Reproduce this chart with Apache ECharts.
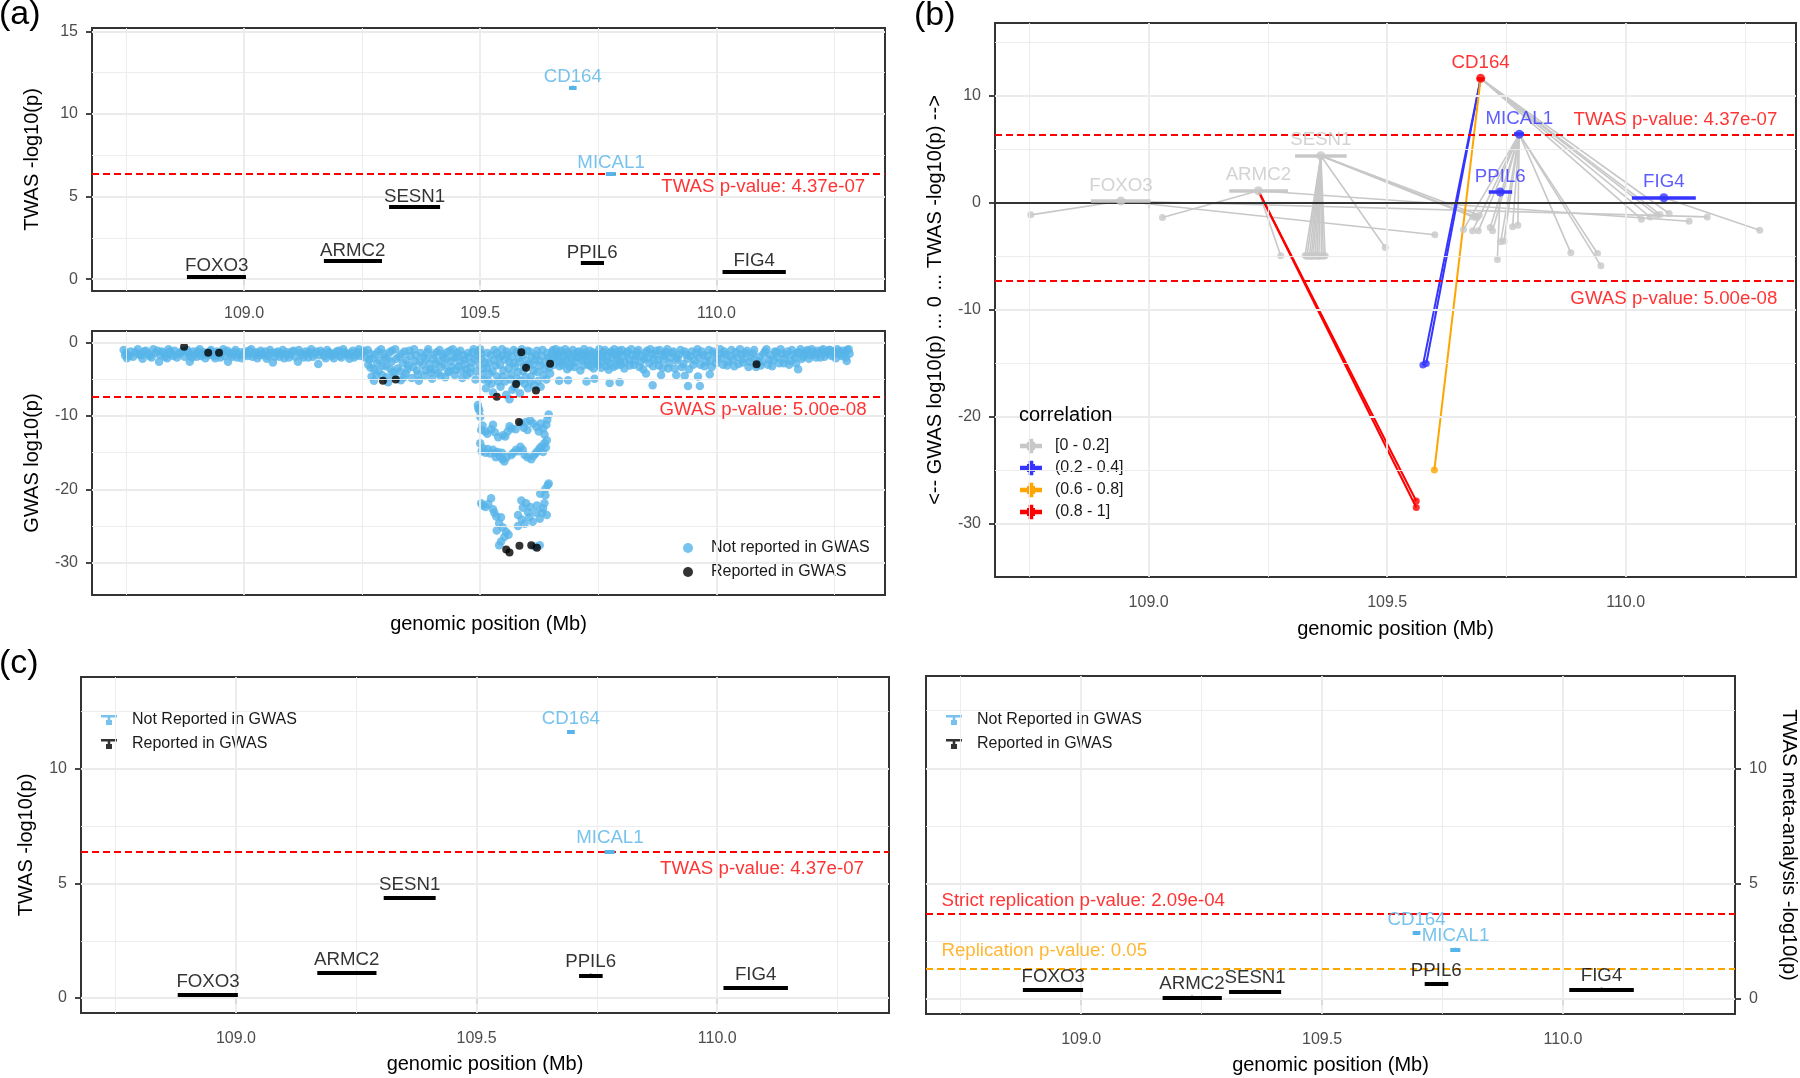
<!DOCTYPE html>
<html><head><meta charset="utf-8">
<script src="https://cdn.jsdelivr.net/npm/echarts@6.0.0/dist/echarts.min.js"></script>
<style>html,body{margin:0;padding:0;background:#fff}#c{width:1800px;height:1078px}</style>
</head><body><div id="c"></div>
<script>
// ---------------- DATA ----------------
const geneNames   = ['FOXO3','ARMC2','SESN1','CD164','MICAL1','PPIL6','FIG4'];
const geneStart   = [108.879,109.169,109.307,109.688,109.766,109.713,110.013];
const geneEnd     = [109.004,109.292,109.415,109.704,109.787,109.762,110.147];
const geneMid     = [108.942,109.230,109.361,109.696,109.777,109.737,110.080];
const twasLog10P  = [0.14,1.09,4.36,11.60,6.38,0.98,0.44];
const metaLog10P  = [0.39,0.07,0.32,2.85,2.15,0.65,0.41];
const reportedInGwas = [1,1,1,0,0,1,1];
const geneCorrClass  = [0,0,0,3,1,1,1];

const corrClasses = ['[0 - 0.2]','(0.2 - 0.4]','(0.6 - 0.8]','(0.8 - 1]'];

const twasThreshold = 6.36;      // p = 4.37e-07
const gwasThreshold = -7.30;     // p = 5.00e-08
const strictRepThreshold = 3.68; // p = 2.09e-04
const repThreshold = 1.30;       // p = 0.05

const xTicks = [109.0,109.5,110.0];
const xMinor = [108.75,109.25,109.75,110.25];
const yTicksTwas = [0,5,10,15];
const yMinorTwas = [2.5,7.5,12.5];
const yTicksGwas = [-30,-20,-10,0];
const yMinorGwas = [-25,-15,-5];
const yTicksB = [-30,-20,-10,0,10];
const yMinorB = [-25,-15,-5,5,15];
const yTicksC = [0,5,10];
const yMinorC = [2.5,7.5,12.5];

// GWAS SNPs (position Mb, log10 p) – not reported
const gwasBandLeft = [[108.745,-1.0],[108.748,-1.7],[108.752,-2.1],[108.760,-1.2],[108.765,-1.9],[108.775,-0.9],[108.778,-1.6],[108.785,-2.2],[108.792,-1.1],[108.800,-1.8],[108.808,-0.9],[108.812,-1.4],[108.820,-2.6],[108.826,-1.2],[108.833,-1.9],[108.840,-0.9],[108.846,-1.5],[108.853,-1.1],[108.858,-2.0],[108.866,-1.3],[108.885,-2.6],[108.880,-1.0],[108.886,-1.7],[108.893,-1.2],[108.900,-1.9],[108.906,-0.9],[108.912,-1.5],[108.918,-2.1],[108.930,-1.0],[108.936,-1.8],[108.942,-1.2],[108.950,-2.0],[108.956,-0.9],[108.966,-2.6],[108.968,-1.4],[108.975,-1.9],[108.982,-1.0],[108.988,-1.6],[108.995,-2.1],[109.002,-1.2],[109.008,-1.8],[109.015,-0.9],[109.022,-1.5],[109.028,-2.1],[109.035,-1.1],[109.042,-1.7],[109.048,-2.2],[109.055,-1.0],[109.061,-2.7],[109.068,-1.4],[109.075,-1.9],[109.082,-1.0],[109.088,-1.6],[109.095,-2.0],[109.102,-1.2],[109.114,-2.6],[109.116,-1.0],[109.122,-1.7],[109.130,-1.2],[109.136,-2.0],[109.142,-0.9],[109.150,-1.5],[109.157,-2.9],[109.162,-1.1],[109.170,-1.8],[109.176,-1.0],[109.183,-1.5],[109.190,-2.1],[109.196,-1.2],[109.203,-1.8],[109.210,-0.9],[109.216,-1.5],[109.223,-2.2],[109.230,-1.1],[109.237,-1.7],[109.243,-0.9],[109.250,-1.4],[109.256,-2.0],
[108.750,-1.4],[108.757,-1.8],[108.770,-1.3],[108.782,-1.7],[108.788,-1.2],[108.797,-1.5],[108.804,-2.0],[108.817,-1.1],[108.823,-1.7],[108.830,-1.4],[108.837,-2.1],[108.843,-1.2],[108.850,-1.8],[108.862,-1.5],[108.870,-1.1],[108.874,-1.9],[108.883,-1.4],[108.890,-2.0],[108.897,-1.5],[108.903,-1.2],[108.909,-1.8],[108.915,-1.3],[108.924,-1.7],[108.927,-1.2],[108.933,-1.5],[108.939,-2.1],[108.946,-1.6],[108.953,-1.3],[108.959,-1.8],[108.965,-1.1],[108.972,-1.6],[108.978,-1.3],[108.985,-2.0],[108.991,-1.3],[108.998,-1.7],[109.005,-1.5],[109.011,-1.1],[109.018,-1.9],[109.025,-1.3],[109.031,-1.7],[109.038,-1.4],[109.045,-1.2],[109.051,-1.8],[109.058,-1.4],[109.065,-1.9],[109.071,-1.2],[109.078,-1.5],[109.085,-2.1],[109.091,-1.3],[109.098,-1.6],[109.105,-1.1],[109.108,-1.9],[109.119,-1.4],[109.126,-2.0],[109.133,-1.5],[109.139,-1.3],[109.146,-1.9],[109.153,-1.2],[109.159,-1.7],[109.166,-1.4],[109.173,-2.1],[109.180,-1.3],[109.186,-1.8],[109.193,-1.5],[109.200,-1.1],[109.206,-2.0],[109.213,-1.3],[109.220,-1.7],[109.226,-1.4],[109.233,-2.0],[109.240,-1.3],[109.246,-1.8],[109.253,-1.1]];
const gwasBandMid = [[109.262,-1.0],[109.265,-2.3],[109.268,-3.4],[109.270,-4.6],[109.275,-5.2],[109.278,-1.6],[109.282,-2.8],[109.285,-3.9],[109.290,-0.9],[109.292,-4.4],[109.298,-2.0],[109.300,-3.2],[109.305,-5.4],[109.308,-1.3],[109.312,-2.6],[109.315,-4.0],[109.320,-0.9],[109.325,-3.5],[109.328,-1.9],[109.332,-5.1],[109.336,-2.8],[109.340,-1.2],[109.342,-4.2],[109.348,-3.1],[109.352,-1.8],[109.355,-4.8],[109.360,-0.9],[109.362,-2.5],[109.366,-3.8],[109.370,-5.2],[109.374,-1.4],[109.378,-3.0],[109.382,-4.5],[109.386,-2.2],[109.390,-0.9],[109.394,-3.6],[109.398,-4.9],[109.402,-1.6],[109.406,-2.8],[109.410,-4.2],[109.414,-1.0],[109.418,-3.3],[109.422,-2.0],[109.426,-4.7],[109.430,-1.3],[109.434,-3.9],[109.438,-2.5],[109.442,-0.9],[109.446,-4.4],[109.450,-1.9],[109.454,-3.2],[109.458,-1.1],[109.462,-4.8],[109.466,-2.3],[109.470,-3.6],[109.474,-1.4],[109.478,-4.1],[109.482,-2.7],[109.486,-0.9],[109.490,-5.0],[109.494,-1.8],[109.498,-3.0],
[109.263,-3.0],[109.267,-1.5],[109.272,-2.1],[109.276,-3.6],[109.280,-4.4],[109.284,-1.2],[109.287,-2.4],[109.294,-3.1],[109.296,-1.5],[109.302,-4.7],[109.304,-2.2],[109.310,-3.6],[109.313,-1.1],[109.318,-4.6],[109.322,-2.2],[109.330,-3.9],[109.334,-1.5],[109.338,-4.7],[109.344,-2.4],[109.346,-3.6],[109.350,-1.1],[109.358,-3.3],[109.364,-1.7],[109.368,-4.3],[109.372,-2.6],[109.380,-1.9],[109.384,-3.8],[109.388,-1.3],[109.392,-2.9],[109.396,-4.1],[109.400,-2.2],[109.404,-3.7],[109.408,-1.3],[109.412,-2.5],[109.416,-4.5],[109.420,-1.6],[109.424,-3.0],[109.428,-2.2],[109.432,-4.0],[109.436,-1.1],[109.440,-3.3],[109.444,-2.0],[109.448,-3.7],[109.452,-1.4],[109.456,-2.6],[109.460,-3.8],[109.464,-1.7],[109.468,-2.9],[109.472,-4.4],[109.476,-1.9],[109.480,-3.4],[109.484,-1.3],[109.488,-2.3],[109.492,-3.9],[109.496,-1.2],
[109.500,-0.9],[109.503,-2.2],[109.506,-3.5],[109.508,-5.0],[109.512,-6.2],[109.515,-1.4],[109.518,-2.8],[109.520,-4.2],[109.524,-5.6],[109.527,-6.8],[109.530,-1.0],[109.533,-3.1],[109.536,-4.6],[109.540,-2.0],[109.543,-6.0],[109.546,-0.9],[109.549,-3.8],[109.552,-5.3],[109.555,-7.1],[109.558,-1.6],[109.561,-2.6],[109.562,-7.7],[109.565,-4.3],[109.568,-6.4],[109.571,-1.0],[109.574,-3.3],[109.578,-4.9],[109.581,-2.1],[109.584,-6.9],[109.588,-0.9],[109.591,-3.9],[109.594,-5.6],[109.598,-2.4],[109.601,-6.2],[109.604,-1.2],[109.607,-4.6],[109.611,-3.0],[109.614,-5.8],[109.618,-1.7],[109.621,-4.0],[109.625,-2.5],[109.628,-6.0],[109.632,-1.0],[109.636,-3.5],[109.640,-5.0],[109.644,-2.0],[109.648,-4.2],[109.652,-1.3],[109.656,-3.0],
[109.502,-1.5],[109.505,-4.3],[109.510,-2.6],[109.514,-3.4],[109.517,-5.2],[109.522,-1.7],[109.526,-3.9],[109.529,-2.4],[109.535,-1.4],[109.538,-5.3],[109.542,-3.0],[109.545,-1.8],[109.548,-4.6],[109.552,-2.3],[109.556,-1.2],[109.560,-3.5],[109.564,-5.0],[109.567,-1.9],[109.570,-2.8],[109.573,-6.0],[109.577,-1.3],[109.580,-4.0],[109.583,-2.6],[109.586,-5.2],[109.590,-1.7],[109.593,-3.2],[109.596,-4.7],[109.600,-1.1],[109.603,-2.9],[109.606,-5.3],[109.609,-1.9],[109.613,-3.8],[109.616,-2.3],[109.620,-1.1],[109.623,-5.2],[109.627,-3.1],[109.630,-1.8],[109.634,-4.4],[109.638,-2.6],[109.642,-1.4],[109.646,-3.4],[109.650,-2.2],[109.654,-1.0],[109.658,-1.9]];
const gwasColumn = [[109.495,-8.5],[109.496,-8.95],[109.500,-10.1],[109.502,-11.9],[109.511,-12.1],[109.523,-11.8],[109.527,-11.2],[109.548,-12.6],[109.558,-12.1],[109.566,-11.7],[109.587,-11.0],[109.597,-10.8],[109.606,-10.6],[109.619,-11.5],[109.624,-12.1],[109.633,-11.7],[109.640,-11.2],[109.645,-9.8],
[109.500,-13.7],[109.506,-14.4],[109.516,-14.5],[109.527,-14.6],[109.537,-14.9],[109.542,-15.5],[109.551,-16.2],[109.566,-15.3],[109.576,-14.6],[109.585,-14.2],[109.594,-15.3],[109.608,-15.9],[109.617,-15.1],[109.626,-14.4],[109.636,-13.7],[109.641,-13.3],[109.633,-14.9],[109.547,-15.9],[109.531,-15.0],
[109.643,-19.4],[109.638,-19.9],[109.627,-20.6],[109.587,-21.5],[109.597,-21.9],[109.606,-22.4],[109.601,-23.1],[109.636,-21.9],[109.633,-22.6],[109.641,-23.5],[109.626,-24.0],[109.611,-24.4],[109.594,-24.7],[109.580,-25.0],[109.580,-23.5],[109.502,-21.9],[109.511,-22.4],[109.523,-21.2],[109.527,-22.7],[109.534,-23.7],[109.544,-23.8],[109.535,-25.6],[109.555,-25.8],[109.544,-27.1],[109.551,-26.5],[109.626,-27.6],[109.615,-27.8],
[109.498,-9.2],[109.505,-11.3],[109.515,-12.4],[109.531,-12.2],[109.538,-12.9],[109.553,-12.8],[109.562,-11.4],[109.575,-11.8],[109.592,-11.6],[109.600,-11.9],[109.612,-11.0],[109.628,-11.0],[109.636,-12.5],[109.642,-10.5],
[109.503,-14.8],[109.511,-15.0],[109.521,-15.1],[109.533,-15.6],[109.546,-15.0],[109.556,-15.6],[109.570,-15.0],[109.581,-14.8],[109.590,-14.6],[109.600,-15.6],[109.613,-15.4],[109.621,-14.8],[109.630,-14.1],[109.639,-14.3],
[109.505,-22.2],[109.517,-22.0],[109.530,-23.2],[109.540,-24.6],[109.548,-25.2],[109.560,-26.2],[109.590,-22.5],[109.604,-23.8],[109.618,-23.2],[109.631,-23.2],[109.638,-20.8],[109.645,-19.2],[109.540,-27.6],[109.588,-24.1],[109.620,-22.2]];
const gwasBandRight = [[109.660,-0.9],[109.664,-2.0],[109.668,-3.2],[109.672,-1.4],[109.667,-5.2],[109.676,-2.6],[109.680,-0.9],[109.684,-3.6],[109.686,-5.1],[109.688,-1.7],[109.692,-2.8],[109.696,-1.0],[109.700,-3.3],[109.704,-2.0],[109.708,-1.2],[109.712,-3.8],[109.716,-2.4],[109.720,-0.9],[109.725,-5.3],[109.724,-1.8],[109.728,-3.0],[109.732,-1.1],[109.736,-2.2],[109.740,-3.5],[109.742,-4.9],[109.744,-1.5],[109.748,-2.7],[109.752,-0.9],[109.756,-3.4],[109.760,-1.9],[109.764,-1.0],[109.768,-2.5],[109.772,-3.7],[109.774,-5.5],[109.776,-1.4],[109.780,-2.1],[109.784,-0.9],[109.788,-3.1],[109.792,-1.7],[109.795,-5.4],[109.796,-2.6],[109.800,-1.0],[109.805,-3.5],[109.810,-1.5],[109.815,-2.3],[109.820,-0.9],[109.825,-3.0],[109.830,-1.8],[109.835,-1.0],[109.840,-2.6],[109.845,-3.6],[109.851,-4.2],[109.850,-1.4],[109.856,-2.1],[109.860,-0.9],[109.865,-5.8],[109.866,-3.2],[109.870,-1.6],[109.876,-2.4],[109.880,-1.0],[109.883,-4.4],[109.886,-3.4],[109.890,-1.8],[109.896,-0.9],[109.900,-2.8],[109.906,-1.4],[109.912,-3.5],[109.915,-4.4],[109.918,-2.1],[109.924,-1.0],[109.930,-2.9],[109.933,-4.5],[109.936,-1.6],[109.940,-5.9],[109.942,-3.6],[109.948,-1.2],[109.954,-2.4],[109.960,-0.9],[109.961,-4.6],[109.965,-5.9],[109.966,-3.0],[109.972,-1.7],[109.978,-2.6],[109.984,-1.0],[109.986,-4.3],[109.990,-3.3],[109.996,-1.5],
[110.002,-2.2],[110.008,-0.9],[110.014,-3.0],[110.020,-1.6],[110.026,-2.6],[110.032,-1.0],[110.038,-3.2],[110.044,-1.9],[110.050,-0.9],[110.056,-2.7],[110.062,-1.4],[110.068,-3.3],[110.074,-2.0],[110.080,-1.0],[110.088,-2.5],[110.094,-3.1],[110.100,-1.5],[110.106,-0.9],[110.112,-2.3],[110.118,-3.2],[110.124,-1.2],[110.130,-2.0],[110.136,-0.9],[110.142,-2.8],[110.148,-1.6],[110.154,-3.0],[110.160,-1.0],[110.166,-2.1],[110.173,-3.6],[110.172,-1.4],[110.178,-0.9],[110.184,-1.9],[110.190,-1.2],[110.196,-2.2],[110.202,-0.9],[110.208,-1.6],[110.214,-1.1],[110.220,-2.0],[110.226,-0.9],[110.232,-1.5],[110.238,-1.0],[110.244,-1.8],[110.250,-1.2],[110.256,-0.9],[110.262,-1.6],[110.268,-1.1],[110.274,-2.0],[110.276,-2.5],[110.280,-0.9],[110.282,-1.5],
[109.662,-1.5],[109.666,-2.5],[109.670,-1.1],[109.674,-3.0],[109.678,-1.8],[109.682,-2.4],[109.686,-1.3],[109.690,-3.3],[109.694,-2.2],[109.698,-1.6],[109.702,-2.7],[109.706,-1.3],[109.710,-2.0],[109.714,-1.6],[109.718,-3.1],[109.722,-1.4],[109.726,-2.4],[109.730,-1.7],[109.734,-3.2],[109.738,-1.3],[109.742,-2.5],[109.746,-1.9],[109.750,-3.0],[109.754,-1.6],[109.758,-2.4],[109.762,-1.3],[109.766,-3.2],[109.770,-1.8],[109.774,-2.8],[109.778,-1.2],[109.782,-3.3],[109.786,-1.6],[109.790,-2.3],[109.794,-1.1],[109.798,-3.0],[109.802,-1.8],[109.807,-2.6],[109.812,-1.2],[109.817,-3.1],[109.822,-1.7],[109.827,-2.4],[109.832,-1.3],[109.837,-3.3],[109.842,-1.8],[109.847,-2.2],[109.853,-1.1],[109.858,-2.8],[109.863,-1.5],[109.868,-2.3],[109.873,-1.1],[109.878,-3.1],[109.884,-1.6],[109.888,-2.3],[109.893,-1.3],[109.898,-3.5],[109.903,-2.0],[109.909,-1.2],[109.915,-2.4],[109.921,-1.6],[109.927,-3.3],[109.933,-1.2],[109.939,-2.2],[109.945,-1.8],[109.951,-3.0],[109.957,-1.4],[109.963,-2.0],[109.969,-1.2],[109.975,-3.2],[109.981,-1.8],[109.987,-2.4],[109.993,-1.2],[109.999,-2.8],[110.005,-1.5],[110.011,-2.1],[110.017,-1.2],[110.023,-3.1],[110.029,-1.8],[110.035,-2.3],[110.041,-1.3],[110.047,-2.9],[110.053,-1.6],[110.059,-2.2],[110.065,-1.1],[110.071,-2.6],[110.077,-1.5],[110.084,-3.3],[110.091,-1.9],[110.097,-2.6],[110.103,-1.2],[110.109,-3.0],[110.115,-1.7],[110.121,-2.4],[110.127,-1.3],[110.133,-2.8],[110.139,-1.5],[110.145,-2.2],[110.151,-1.2],[110.157,-2.5],[110.163,-1.6],[110.169,-2.8],[110.175,-1.3],[110.181,-2.2],[110.187,-1.5],[110.193,-1.0],[110.199,-1.7],[110.205,-1.3],[110.211,-2.0],[110.217,-1.4],[110.223,-1.1],[110.229,-1.9],[110.235,-1.3],[110.241,-1.0],[110.247,-1.6],[110.253,-2.1],[110.259,-1.2],[110.265,-1.8],[110.271,-1.4],[110.277,-1.0]];
// reported in GWAS
const gwasReported = [[108.873,-0.55],[108.924,-1.36],[108.947,-1.36],[109.294,-5.18],[109.321,-5.0],[109.587,-1.31],[109.597,-3.41],[109.648,-2.87],[109.576,-5.63],[109.618,-6.5],[109.535,-7.36],[109.582,-10.8],[110.085,-2.95],[109.555,-28.2],[109.562,-28.6],[109.583,-27.7],[109.608,-27.6],[109.620,-27.97]];

// Panel (b): gene -> SNP links [gene, SNP position, SNP GWAS log10 p, correlation class]
const snpLinks = [
 ['FOXO3',108.753,-1.16,0],['FOXO3',109.600,-3.02,0],['FOXO3',110.171,-1.35,0],
 ['ARMC2',109.029,-1.40,0],['ARMC2',109.277,-4.99,0],['ARMC2',110.133,-1.75,0],['ARMC2',109.561,-27.9,3],['ARMC2',109.561,-28.5,3],
 ['SESN1',109.328,-4.96,0],['SESN1',109.332,-5.05,0],['SESN1',109.337,-4.99,0],['SESN1',109.341,-5.06,0],['SESN1',109.345,-4.95,0],['SESN1',109.349,-5.02,0],['SESN1',109.353,-4.98,0],['SESN1',109.357,-5.05,0],['SESN1',109.362,-4.97,0],['SESN1',109.366,-5.03,0],['SESN1',109.370,-4.99,0],
 ['SESN1',109.496,-4.21,0],['SESN1',109.680,-1.35,0],['SESN1',109.684,-1.30,0],['SESN1',109.688,-1.42,0],['SESN1',109.693,-1.19,0],
 ['CD164',109.575,-15.2,1],['CD164',109.582,-15.05,1],['CD164',109.599,-25.0,2],
 ['CD164',110.033,-1.56,0],['CD164',110.051,-1.35,0],['CD164',110.065,-1.19,0],['CD164',110.072,-1.12,0],['CD164',110.091,-1.03,0],
 ['MICAL1',109.660,-2.53,0],['MICAL1',109.679,-2.65,0],['MICAL1',109.691,-2.65,0],['MICAL1',109.716,-2.34,0],['MICAL1',109.721,-2.65,0],['MICAL1',109.738,-3.68,0],['MICAL1',109.745,-3.59,0],['MICAL1',109.763,-2.28,0],['MICAL1',109.774,-2.12,0],['MICAL1',109.885,-4.71,0],['MICAL1',109.941,-4.77,0],['MICAL1',109.948,-5.92,0],
 ['PPIL6',109.731,-5.33,0],
 ['FIG4',110.281,-2.59,0]
];

// ---------------- STYLE ----------------
const FONT = "'Liberation Sans', Arial, Helvetica, sans-serif";
const BLUE = '#56B4E9';
const corrColors = ['#C8C8C8','#3535FF','#FFA500','#FF0000'];
const XMIN = 108.678, XMAX = 110.357;
const GRIDC = '#EBEBEB';

const grids = [
  {left:92, top:28, width:793, height:263},
  {left:92, top:331, width:793, height:264},
  {left:995, top:23, width:801, height:554},
  {left:81, top:677, width:808, height:336},
  {left:926, top:676, width:811, height:338}
].map(g => Object.assign({show:true, borderColor:'#333333', borderWidth:2, backgroundColor:'#fff', containLabel:false}, g));

function xAx(gi, showLabels, name, nameGap, margin) {
  return {type:'value', gridIndex:gi, min:XMIN, max:XMAX,
    axisLine:{show:false}, splitLine:{show:false},
    axisTick:{show:true, length:6, lineStyle:{color:'#333', width:1.8}, customValues:xTicks},
    axisLabel:{show:showLabels, customValues:xTicks, formatter:v=>v.toFixed(1), fontSize:16, color:'#4D4D4D', fontFamily:FONT, margin:margin},
    name:name, nameLocation:'middle', nameGap:nameGap, nameTextStyle:{fontSize:20, color:'#000', fontFamily:FONT}};
}
function yAx(gi, min, max, ticks, name, nameGap, pos, rot) {
  return {type:'value', gridIndex:gi, min:min, max:max, position:pos,
    axisLine:{show:false}, splitLine:{show:false},
    axisTick:{show:true, length:6, lineStyle:{color:'#333', width:1.8}, customValues:ticks},
    axisLabel:{customValues:ticks, formatter:v=>String(v), fontSize:16, color:'#4D4D4D', fontFamily:FONT, margin:14},
    name:name, nameLocation:'middle', nameGap:nameGap, nameRotate:rot,
    nameTextStyle:{fontSize:20, color:'#000', fontFamily:FONT}};
}

function gridLines(gi, yMaj, yMin) {
  const d = [];
  xTicks.forEach(v=>d.push({xAxis:v, lineStyle:{width:1.8}}));
  xMinor.forEach(v=>d.push({xAxis:v, lineStyle:{width:0.9}}));
  yMaj.forEach(v=>d.push({yAxis:v, lineStyle:{width:1.8}}));
  yMin.forEach(v=>d.push({yAxis:v, lineStyle:{width:0.9}}));
  return {type:'scatter', xAxisIndex:gi, yAxisIndex:gi, data:[], z:1, silent:true,
    markLine:{silent:true, symbol:['none','none'], label:{show:false}, animation:false,
      lineStyle:{color:GRIDC, type:'solid'}, data:d}};
}
function hLine(gi, y, color, dashed, width, z) {
  return {type:'scatter', xAxisIndex:gi, yAxisIndex:gi, data:[], z:z||2, silent:true,
    markLine:{silent:true, symbol:['none','none'], label:{show:false}, animation:false,
      lineStyle:{color:color, type:dashed?[7,4]:'solid', width:width}, data:[{yAxis:y}]}};
}
function note(gi, x, y, text, color, pos) {
  return {type:'scatter', xAxisIndex:gi, yAxisIndex:gi, symbolSize:0, z:6, silent:true,
    itemStyle:{color:'rgba(0,0,0,0)'}, data:[{value:[x,y]}],
    label:{show:true, position:pos, distance:0, formatter:text, color:color, fontSize:18.7, fontFamily:FONT}};
}
function geneBars(gi, yv, colors, width) {
  return {type:'lines', coordinateSystem:'cartesian2d', xAxisIndex:gi, yAxisIndex:gi, z:5, silent:true,
    lineStyle:{width:width, opacity:1, curveness:0},
    data:geneNames.map((g,i)=>({coords:[[geneStart[i],yv[i]],[geneEnd[i],yv[i]]], lineStyle:{color:colors[i]}}))};
}
function genePts(gi, name, yv, idx, color, size, dist) {
  return {type:'scatter', name:name, xAxisIndex:gi, yAxisIndex:gi, z:6, silent:true, symbolSize:size,
    itemStyle:{color:color},
    data:idx.map(i=>({value:[geneMid[i], yv[i]], name:geneNames[i]})),
    label:{show:true, position:'top', distance:dist, formatter:'{b}', color:color, fontSize:18.7, lineHeight:19, fontFamily:FONT}};
}
const idxBlue = [], idxBlack = [];
reportedInGwas.forEach((r,i)=> (r? idxBlack: idxBlue).push(i));
const colorsAC = reportedInGwas.map(r=> r? '#000':BLUE);

const series = [];
series.push(gridLines(0, yTicksTwas, yMinorTwas));
series.push(gridLines(1, yTicksGwas, yMinorGwas));
series.push(gridLines(2, yTicksB, yMinorB));
series.push(gridLines(3, yTicksC, yMinorC));
series.push(gridLines(4, yTicksC, yMinorC));

// ---- panel (a) top
series.push(hLine(0, twasThreshold, '#FF0000', true, 2));
series.push(note(0, 110.315, 5.59, 'TWAS p-value: 4.37e-07', '#FF0000', 'left'));
series.push(geneBars(0, twasLog10P, colorsAC, 4));
series.push(genePts(0, 'a-blue', twasLog10P, idxBlue, BLUE, 4, -1));
series.push(genePts(0, 'a-black', twasLog10P, idxBlack, '#000', 4, -1));

// ---- panel (a) bottom
series.push(hLine(1, gwasThreshold, '#FF0000', true, 2));
series.push(note(1, 110.318, -9.18, 'GWAS p-value: 5.00e-08', '#FF0000', 'left'));
series.push({type:'scatter', name:'Not reported in GWAS', xAxisIndex:1, yAxisIndex:1, z:3, symbolSize:8.5,
  itemStyle:{color:BLUE}, data:[].concat(gwasBandLeft, gwasBandMid, gwasColumn, gwasBandRight)});
series.push({type:'scatter', name:'Reported in GWAS', xAxisIndex:1, yAxisIndex:1, z:4, symbolSize:8,
  itemStyle:{color:'#000'}, data:gwasReported});

// ---- panel (b)
series.push(hLine(2, 0, '#333333', false, 1.8, 2));
series.push(hLine(2, twasThreshold, '#FF0000', true, 2));
series.push(hLine(2, gwasThreshold, '#FF0000', true, 2));
series.push(note(2, 110.318, 7.69, 'TWAS p-value: 4.37e-07', '#FF0000', 'left'));
series.push(note(2, 110.318, -8.97, 'GWAS p-value: 5.00e-08', '#FF0000', 'left'));
corrClasses.forEach((cls, c) => {
  const links = snpLinks.filter(l => l[3] === c);
  series.push({type:'lines', name:cls, coordinateSystem:'cartesian2d', xAxisIndex:2, yAxisIndex:2, z: c===0?3:4, silent:true,
    lineStyle:{color:corrColors[c], width: c===0?1.6:2, opacity:1, curveness:0},
    data: links.map(l => { const gi = geneNames.indexOf(l[0]); return {coords:[[geneMid[gi], twasLog10P[gi]],[l[1], l[2]]]}; })});
  series.push({type:'scatter', name:cls, xAxisIndex:2, yAxisIndex:2, z: c===0?4:5, silent:true, symbolSize:7,
    itemStyle:{color:corrColors[c]}, data: links.map(l => [l[1], l[2]])});
});
series.push(geneBars(2, twasLog10P, geneCorrClass.map(c=>corrColors[c]), 3.5));
series.push({type:'scatter', xAxisIndex:2, yAxisIndex:2, z:6, silent:true, symbolSize:9,
  data: geneNames.map((g,i)=>({value:[geneMid[i], twasLog10P[i]], name:g,
     itemStyle:{color:corrColors[geneCorrClass[i]]}, label:{color:corrColors[geneCorrClass[i]]}})),
  label:{show:true, position:'top', distance:1.5, formatter:'{b}', fontSize:18.7, lineHeight:19, fontFamily:FONT}});

// ---- panel (c) left
series.push(hLine(3, twasThreshold, '#FF0000', true, 2));
series.push(note(3, 110.305, 5.62, 'TWAS p-value: 4.37e-07', '#FF0000', 'left'));
series.push(geneBars(3, twasLog10P, colorsAC, 4));
series.push(genePts(3, 'Not Reported in GWAS', twasLog10P, idxBlue, BLUE, 4, 2));
series.push(genePts(3, 'Reported in GWAS', twasLog10P, idxBlack, '#000', 4, 2));

// ---- panel (c) right
series.push(hLine(4, strictRepThreshold, '#FF0000', true, 2));
series.push(hLine(4, repThreshold, '#FFA500', true, 2));
series.push(note(4, 108.71, 4.24, 'Strict replication p-value: 2.09e-04', '#FF0000', 'right'));
series.push(note(4, 108.71, 2.10, 'Replication p-value: 0.05', '#FFA500', 'right'));
series.push(geneBars(4, metaLog10P, colorsAC, 4));
series.push(genePts(4, 'Not Reported in GWAS', metaLog10P, idxBlue, BLUE, 4, 2));
series.push(genePts(4, 'Reported in GWAS', metaLog10P, idxBlack, '#000', 4, 2));

const plusIcon = 'path://M0,5h20v2.6h-20z M8.7,0h2.6v12.6h-2.6z M7,3.3h6v6h-6z';
const tIcon = 'path://M0,0h16v2.6h-16z M6.7,0h2.6v10h-2.6z M5,5h6v5h-6z';
const legTxt = {fontSize:16, color:'#1A1A1A', fontFamily:FONT};

const option = {
  animation:false,
  backgroundColor:'#ffffff',
  textStyle:{fontFamily:FONT},
  title:[
    {text:'(a)', left:-1, top:-2, padding:0, textStyle:{fontSize:34, fontWeight:'normal', color:'#000', fontFamily:FONT}},
    {text:'(b)', left:914, top:-1, padding:0, textStyle:{fontSize:34, fontWeight:'normal', color:'#000', fontFamily:FONT}},
    {text:'(c)', left:-1, top:647, padding:0, textStyle:{fontSize:34, fontWeight:'normal', color:'#000', fontFamily:FONT}},
    {text:'correlation', left:1019, top:405, padding:0, textStyle:{fontSize:20, fontWeight:'normal', color:'#000', fontFamily:FONT}}
  ],
  legend:[
    {left:683, top:540, padding:0, orient:'vertical', itemWidth:10, itemHeight:10, itemGap:8, selectedMode:false,
      data:[{name:'Not reported in GWAS', icon:'circle'},{name:'Reported in GWAS', icon:'circle'}],
      textStyle:Object.assign({padding:[0,0,0,13]}, legTxt)},
    {left:1020, top:438, padding:0, orient:'vertical', itemWidth:20, itemHeight:13, itemGap:6, selectedMode:false,
      data:corrClasses.map(n=>({name:n, icon:plusIcon})),
      textStyle:Object.assign({padding:[0,0,0,9]}, legTxt)},
    {left:101, top:712, padding:0, orient:'vertical', itemWidth:16, itemHeight:11, itemGap:8, selectedMode:false,
      data:[{name:'Not Reported in GWAS', icon:tIcon},{name:'Reported in GWAS', icon:tIcon}],
      textStyle:Object.assign({padding:[0,0,0,10]}, legTxt)},
    {left:946, top:712, padding:0, orient:'vertical', itemWidth:16, itemHeight:11, itemGap:8, selectedMode:false,
      data:[{name:'Not Reported in GWAS', icon:tIcon},{name:'Reported in GWAS', icon:tIcon}],
      textStyle:Object.assign({padding:[0,0,0,10]}, legTxt)}
  ],
  grid:grids,
  xAxis:[
    xAx(0, true, '', 20, 15),
    xAx(1, false, 'genomic position (Mb)', 19, 15),
    xAx(2, true, 'genomic position (Mb)', 42, 18),
    xAx(3, true, 'genomic position (Mb)', 41, 18),
    xAx(4, true, 'genomic position (Mb)', 41, 18)
  ],
  yAxis:[
    yAx(0, -0.72, 15.2, yTicksTwas, 'TWAS -log10(p)', 50, 'left', 90),
    yAx(1, -34.4, 1.6, yTicksGwas, 'GWAS log10(p)', 50, 'left', 90),
    yAx(2, -35.0, 16.77, yTicksB, '<-- GWAS log10(p) ... 0 ... TWAS -log10(p) -->', 50, 'left', 90),
    yAx(3, -0.65, 14.0, yTicksC, 'TWAS -log10(p)', 45, 'left', 90),
    yAx(4, -0.65, 14.0, yTicksC, 'TWAS meta-analysis -log10(p)', 44, 'right', -90)
  ],
  series:series
};
const chart = echarts.init(document.getElementById('c'), null, {renderer:'canvas'});
chart.setOption(option);
</script>
</body></html>
